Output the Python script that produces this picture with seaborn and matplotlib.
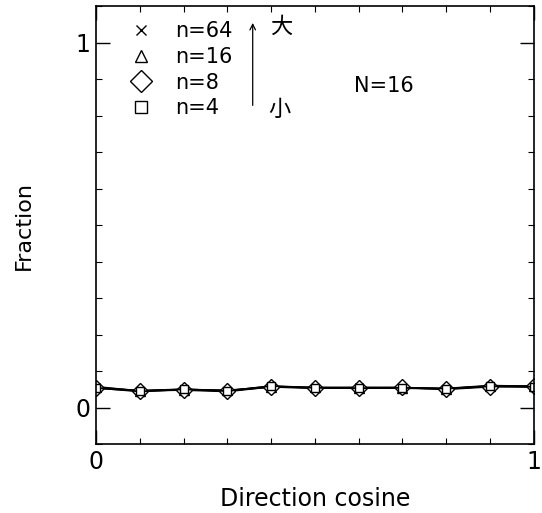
import matplotlib
matplotlib.use("Agg")
import matplotlib.pyplot as plt
from matplotlib.lines import Line2D
from matplotlib.ticker import MultipleLocator
import seaborn as sns
import pandas as pd

# direction cosine bins and fraction for each n (N=16)
cosines = [0.0, 0.1, 0.2, 0.3, 0.4, 0.5, 0.6, 0.7, 0.8, 0.9, 1.0]
frac_n64 = [0.055, 0.046, 0.050, 0.046, 0.058, 0.054, 0.055, 0.054, 0.051, 0.059, 0.056]
frac_n16 = [0.057, 0.045, 0.049, 0.047, 0.056, 0.055, 0.054, 0.053, 0.052, 0.060, 0.058]
frac_n8 = [0.053, 0.046, 0.048, 0.044, 0.057, 0.053, 0.054, 0.055, 0.050, 0.057, 0.059]
frac_n4 = [0.054, 0.044, 0.050, 0.045, 0.059, 0.054, 0.053, 0.054, 0.052, 0.058, 0.057]
labels = ["n=64", "n=16", "n=8", "n=4"]
markers = ["x", "^", "D", "s"]
msizes = [6, 7, 8, 6]
legend_sizes = [7, 9, 11, 8]

sns.set_style("ticks")
plt.rcParams["font.family"] = ["DejaVu Sans", "Noto Sans CJK JP"]
plt.rcParams["text.color"] = "black"
plt.rcParams["axes.labelcolor"] = "black"
plt.rcParams["xtick.color"] = "black"
plt.rcParams["ytick.color"] = "black"

fig = plt.figure(figsize=(5.42, 5.13), dpi=100)
ax = fig.add_axes([0.177, 0.1345, 0.808, 0.8535])

series = [frac_n64, frac_n16, frac_n8, frac_n4]
for lab, vals, mk, ms in zip(labels, series, markers, msizes):
    df = pd.DataFrame({"cos": cosines, "frac": vals})
    sns.lineplot(data=df, x="cos", y="frac", ax=ax, color="black", linewidth=1.3,
                 marker=mk, markersize=ms, markerfacecolor="white",
                 markeredgecolor="black", markeredgewidth=1.0, estimator=None)

ax.set_xlim(0, 1)
ax.set_ylim(-0.1, 1.1)
ax.set_xticks([0, 1])
ax.set_xticklabels(["0", "1"])
ax.set_yticks([0, 1])
ax.set_yticklabels(["0", "1"])
ax.xaxis.set_minor_locator(MultipleLocator(0.1))
ax.yaxis.set_minor_locator(MultipleLocator(0.1))
ax.tick_params(which="both", direction="in", top=True, right=True, color="black")
ax.tick_params(which="major", length=10, width=1.0, labelsize=17, pad=4)
ax.tick_params(which="minor", length=4, width=0.8)
for sp in ax.spines.values():
    sp.set_linewidth(1.2)
    sp.set_color("black")

ax.set_xlabel("Direction cosine", fontsize=17, labelpad=10)
ax.set_ylabel("Fraction", fontsize=16, labelpad=30)

handles = [Line2D([], [], linestyle="none", marker=mk, markersize=s, color="black",
                  markerfacecolor="white", markeredgewidth=1.0)
           for mk, s in zip(markers, legend_sizes)]
ax.legend(handles, labels, loc="upper left", bbox_to_anchor=(0.08, 0.965),
          frameon=False, fontsize=15, handlelength=1.0, handletextpad=1.1,
          labelspacing=0.27, borderpad=0, borderaxespad=0)

ax.annotate("", xy=(0.358, 0.968), xytext=(0.358, 0.767), xycoords="axes fraction",
            arrowprops=dict(arrowstyle="->", color="black", lw=0.9))
ax.text(0.422, 0.955, "大", transform=ax.transAxes, ha="center", va="center",
        fontsize=16, family=["Noto Sans CJK JP"])
ax.text(0.420, 0.765, "小", transform=ax.transAxes, ha="center", va="center",
        fontsize=16, family=["Noto Sans CJK JP"])
ax.text(0.658, 0.817, "N=16", transform=ax.transAxes, ha="center", va="center",
        fontsize=15)

fig.savefig("out.png", dpi=100)
